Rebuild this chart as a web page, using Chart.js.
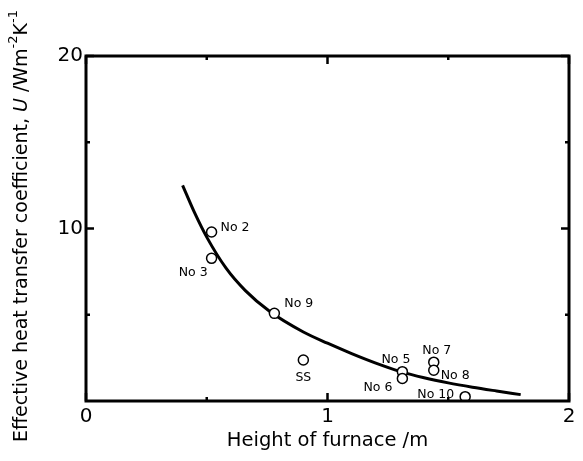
<!DOCTYPE html>
<html>
<head>
<meta charset="utf-8">
<script src="https://cdn.jsdelivr.net/npm/chart.js@4"></script>
<style>
  html, body { margin: 0; padding: 0; background: #fff; }
  #wrap { width: 583px; height: 461px; }
</style>
</head>
<body>
<div id="wrap"><canvas id="c" width="583" height="461"></canvas></div>
<script>
// ---- data ----
const pointNames = ["No 2", "No 3", "No 9", "SS", "No 5", "No 6", "No 7", "No 8", "No 10"];
const pointX = [0.52, 0.52, 0.78, 0.90, 1.31, 1.31, 1.44, 1.44, 1.57];
const pointY = [9.8, 8.27, 5.08, 2.38, 1.70, 1.31, 2.25, 1.78, 0.25];
const curveX = [0.40, 0.45, 0.50, 0.58, 0.66, 0.76, 0.90, 1.00, 1.10, 1.20, 1.30, 1.40, 1.50, 1.60, 1.70, 1.80];
const curveY = [12.5, 10.9, 9.5, 7.7, 6.4, 5.2, 4.0, 3.35, 2.75, 2.2, 1.72, 1.35, 1.05, 0.80, 0.58, 0.37];
const xMajorTicks = [0, 1, 2];
const xMinorTicks = [0.5, 1.5];
const yMajorTicks = [10, 20];
const yMinorTicks = [5, 15];
const xTickLabels = ["0", "1", "2"];
const yTickLabels = ["10", "20"];

// label placement (pixel offsets from the point, and alignment)
const labelPlacement = {
  "No 2": { dx: 9, dy: -4, align: "left" },
  "No 3": { dx: -4, dy: 14, align: "right" },
  "No 9": { dx: 10, dy: -10, align: "left" },
  "SS": { dx: 0, dy: 18, align: "center" },
  "No 5": { dx: 8, dy: -12, align: "right" },
  "No 6": { dx: -10, dy: 9, align: "right" },
  "No 7": { dx: 3, dy: -11, align: "center" },
  "No 8": { dx: 7, dy: 5, align: "left" },
  "No 10": { dx: -11, dy: -2, align: "right" }
};

const curveData = curveX.map((x, i) => ({ x, y: curveY[i] }));
const pointData = pointX.map((x, i) => ({ x, y: pointY[i] }));

const FONT = "'DejaVu Sans', Verdana, sans-serif";

const framePlugin = {
  id: 'framePlugin',
  afterDraw(chart) {
    const ctx = chart.ctx;
    const a = chart.chartArea;
    const xs = chart.scales.x, ys = chart.scales.y;
    ctx.save();
    ctx.strokeStyle = '#000';
    ctx.fillStyle = '#000';
    // frame
    ctx.lineWidth = 3;
    ctx.strokeRect(a.left, a.top, a.right - a.left, a.bottom - a.top);
    // ticks
    ctx.lineWidth = 2.5;
    const drawX = (v, len) => {
      const px = xs.getPixelForValue(v);
      ctx.beginPath();
      ctx.moveTo(px, a.bottom); ctx.lineTo(px, a.bottom - len);
      ctx.moveTo(px, a.top); ctx.lineTo(px, a.top + len);
      ctx.stroke();
    };
    const drawY = (v, len) => {
      const py = ys.getPixelForValue(v);
      ctx.beginPath();
      ctx.moveTo(a.left, py); ctx.lineTo(a.left + len, py);
      ctx.moveTo(a.right, py); ctx.lineTo(a.right - len, py);
      ctx.stroke();
    };
    xMajorTicks.forEach(v => drawX(v, 8));
    xMinorTicks.forEach(v => drawX(v, 4));
    yMajorTicks.forEach(v => drawY(v, 8));
    yMinorTicks.forEach(v => drawY(v, 4));
    // tick labels
    ctx.font = "20px " + FONT;
    ctx.textBaseline = 'middle';
    ctx.textAlign = 'center';
    xMajorTicks.forEach((v, i) => {
      ctx.fillText(xTickLabels[i], xs.getPixelForValue(v), a.bottom + 16);
    });
    ctx.textAlign = 'right';
    yMajorTicks.forEach((v, i) => {
      ctx.fillText(yTickLabels[i], a.left - 3, ys.getPixelForValue(v));
    });
    // x title
    ctx.font = "19.5px " + FONT;
    ctx.textAlign = 'center';
    ctx.textBaseline = 'middle';
    ctx.fillText("Height of furnace /m", (a.left + a.right) / 2, 441);
    // y title (rotated, with italic U and superscripts)
    ctx.translate(22, 226);
    ctx.rotate(-Math.PI / 2);
    const parts = [
      { t: "Effective heat transfer coefficient, ", f: "19px " + FONT, dy: 0 },
      { t: "U", f: "italic 19px " + FONT, dy: 0 },
      { t: " /Wm", f: "19px " + FONT, dy: 0 },
      { t: "-2", f: "13px " + FONT, dy: -8 },
      { t: "K", f: "19px " + FONT, dy: 0 },
      { t: "-1", f: "13px " + FONT, dy: -8 }
    ];
    let total = 0;
    parts.forEach(p => { ctx.font = p.f; p.w = ctx.measureText(p.t).width; total += p.w; });
    let cx = -total / 2;
    ctx.textAlign = 'left';
    parts.forEach(p => { ctx.font = p.f; ctx.fillText(p.t, cx, p.dy); cx += p.w; });
    ctx.restore();

    // point labels
    ctx.save();
    ctx.fillStyle = '#000';
    ctx.font = "12.5px " + FONT;
    ctx.textBaseline = 'middle';
    pointNames.forEach((name, i) => {
      const pl = labelPlacement[name];
      const px = xs.getPixelForValue(pointX[i]);
      const py = ys.getPixelForValue(pointY[i]);
      ctx.textAlign = pl.align;
      ctx.fillText(name, px + pl.dx, py + pl.dy);
    });
    ctx.restore();
  }
};

new Chart(document.getElementById('c'), {
  type: 'scatter',
  data: {
    datasets: [
      {
        type: 'line',
        data: curveData,
        borderColor: '#000',
        borderWidth: 3,
        pointRadius: 0,
        fill: false,
        cubicInterpolationMode: 'monotone',
        order: 2
      },
      {
        type: 'scatter',
        data: pointData,
        pointRadius: 5,
        pointBorderWidth: 1.5,
        pointBorderColor: '#000',
        pointBackgroundColor: '#fff',
        order: 1
      }
    ]
  },
  options: {
    responsive: false,
    animation: false,
    layout: { padding: { left: 86, right: 14, top: 56, bottom: 60 } },
    plugins: { legend: { display: false }, tooltip: { enabled: false } },
    scales: {
      x: { type: 'linear', min: 0, max: 2, display: false },
      y: { type: 'linear', min: 0, max: 20, display: false }
    }
  },
  plugins: [framePlugin]
});
</script>
</body>
</html>
